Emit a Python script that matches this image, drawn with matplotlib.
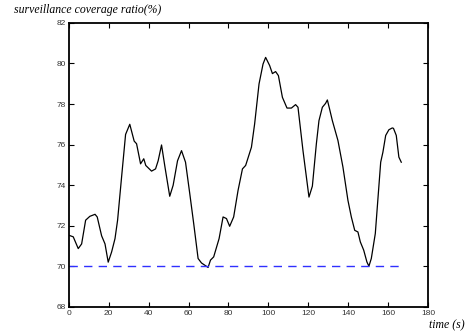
import numpy as np
import matplotlib
matplotlib.use("Agg")
from matplotlib import pyplot as plt

# values
time_s = [0, 2.3, 4.8, 6.5, 8.5, 10.6, 13.2, 14.3, 16.5, 18.2, 19.8, 21.5, 23.2,
          24.5, 26.5, 28.5, 30.6, 32.8, 34, 36, 37.6, 38.6, 41.5, 43.5, 44.8,
          46.5, 48.2, 50.6, 52.3, 54.5, 56.5, 58.5, 60.6, 62.6, 64.8, 66.5,
          69.8, 71, 72.6, 75.3, 77.3, 79, 80.6, 82.6, 84.8, 87, 88.6, 91.5,
          93.1, 95.3, 97.3, 98.6, 100.6, 102, 103.6, 105, 107, 109.3, 111.5,
          113.6, 114.8, 117.3, 120.3, 122, 124, 125.3, 127, 128.6, 129.5,
          130.6, 132, 134.8, 137.3, 139.8, 141.5, 143.2, 144.8, 146, 147.7,
          149.3, 150.3, 151.5, 153.5, 156.2, 157.3, 158.7, 160.3, 162, 162.6,
          164, 165.3, 166.5]
coverage = [71.53, 71.45, 70.87, 71.1, 72.27, 72.46, 72.56, 72.43, 71.5, 71.1,
            70.2, 70.7, 71.36, 72.27, 74.4, 76.5, 77.0, 76.17, 76.04, 75.05,
            75.3, 74.97, 74.69, 74.8, 75.2, 75.98, 74.9, 73.45, 73.99, 75.2,
            75.7, 75.13, 73.6, 72.1, 70.38, 70.16, 69.94, 70.3, 70.46, 71.36,
            72.43, 72.35, 71.97, 72.43, 73.74, 74.8, 74.97, 75.87, 77.02,
            78.99, 79.97, 80.3, 79.9, 79.5, 79.6, 79.4, 78.33, 77.8, 77.8,
            77.97, 77.84, 75.7, 73.41, 73.95, 76.04, 77.18, 77.84, 78.03,
            78.2, 77.76, 77.18, 76.2, 74.89, 73.25, 72.43, 71.77, 71.69, 71.2,
            70.79, 70.21, 70.0, 70.38, 71.61, 75.13, 75.62, 76.45, 76.73,
            76.82, 76.8, 76.45, 75.38, 75.13]
threshold = 70
threshold_t = [0, 166.5]

xticks = np.arange(0, 181, 20)
yticks = np.arange(68, 83, 2)

fig = plt.figure(figsize=(4.67, 3.32), dpi=100)
ax = fig.add_axes([0.147, 0.076, 0.77, 0.855])

ax.plot(time_s, coverage, color='black', linewidth=0.9)
ax.plot(threshold_t, [threshold, threshold], color='#3030ff', linewidth=1.0,
        dashes=(6, 4.5))

ax.set_xlim(0, 180)
ax.set_ylim(68, 82)
ax.set_xticks(xticks)
ax.set_yticks(yticks)
ax.tick_params(direction='in', top=True, right=True, length=3.5, width=0.8,
               labelsize=6, labelcolor='#333333', pad=2)
for lab in ax.get_xticklabels() + ax.get_yticklabels():
    lab.set_family('Liberation Sans')
for s in ax.spines.values():
    s.set_linewidth(1.3)

fig.text(0.03, 0.952, 'surveillance coverage ratio(%)', fontsize=8.5,
         family='Liberation Serif', style='italic', ha='left', va='bottom')
fig.text(0.995, 0.003, 'time (s)', fontsize=8.5, family='Liberation Serif',
         style='italic', ha='right', va='bottom')

fig.savefig('out.png', dpi=100)
